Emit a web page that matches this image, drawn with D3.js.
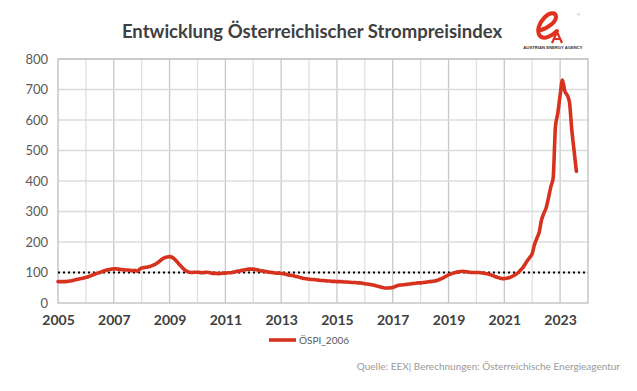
<!DOCTYPE html>
<html><head><meta charset="utf-8">
<script src="https://cdn.jsdelivr.net/npm/d3@7"></script>
<style>body{margin:0;background:#fff}svg{display:block}</style>
</head><body>
<script>
const years = [2005,2006,2007,2008,2009,2010,2011,2012,2013,2014,2015,2016,2017,2018,2019,2020,2021,2022,2023];
const ospi2005 = [70,70,70,70,71,72,73,75,77,79,80,82];
const ospi2006 = [84,86,89,92,95,98,100,103,106,108,110,111];
const ospi2007 = [112,112,111,110,109,108,108,107,106,107,104,110];
const ospi2008 = [115,116,117,119,121,124,128,133,139,145,149,151];
const ospi2009 = [152,150,145,137,128,120,112,106,102,100,100,101];
const ospi2010 = [101,100,99,100,101,100,98,97,97,96,97,98];
const ospi2011 = [98,99,99,100,102,104,105,107,108,110,111,111];
const ospi2012 = [111,110,108,106,105,104,102,101,100,99,98,98];
const ospi2013 = [97,96,94,92,91,90,88,86,84,82,80,79];
const ospi2014 = [78,77,77,76,75,74,74,73,72,72,71,71];
const ospi2015 = [70,70,70,69,69,68,68,67,67,66,66,65];
const ospi2016 = [63,62,61,60,58,56,54,52,50,49,49,50];
const ospi2017 = [51,54,57,59,59,60,61,62,63,64,65,66];
const ospi2018 = [66,67,68,69,70,71,72,74,77,80,84,88];
const ospi2019 = [92,95,98,100,102,103,104,103,102,101,100,100];
const ospi2020 = [100,100,99,98,97,95,93,90,87,84,82,80];
const ospi2021 = [80,81,83,86,90,94,100,108,116,128,140,150];
const ospi2022 = [162,192,212,232,272,294,312,345,381,409,578,622];
const ospi2023 = [680,731,695,682,660,570,500,432];
const seriesByYear = [ospi2005,ospi2006,ospi2007,ospi2008,ospi2009,ospi2010,ospi2011,ospi2012,ospi2013,ospi2014,ospi2015,ospi2016,ospi2017,ospi2018,ospi2019,ospi2020,ospi2021,ospi2022,ospi2023];
const yTicks = [0,100,200,300,400,500,600,700,800];
const xLabelYears = [2005,2007,2009,2011,2013,2015,2017,2019,2021,2023];
const baseline = 100;
const title = "Entwicklung Österreichischer Strompreisindex";
const seriesName = "ÖSPI_2006";
const source = "Quelle: EEX| Berechnungen: Österreichische Energieagentur";

const data = [];
seriesByYear.forEach((arr, i) => arr.forEach((v, m) => data.push({t: years[i] + m/12, v})));

const W = 637, H = 391;
const svg = d3.select("body").append("svg").attr("width", W).attr("height", H);
const pL = 58, pR = 588, pT = 59, pB = 303;
const x = d3.scaleLinear().domain([2005, 2024]).range([pL, pR]);
const y = d3.scaleLinear().domain([0, 800]).range([pB, pT]);

// grid
const g = svg.append("g");
d3.range(2006, 2024).forEach(yr => {
  g.append("line").attr("x1", x(yr)).attr("x2", x(yr)).attr("y1", pT).attr("y2", pB)
   .attr("stroke", (yr % 2 === 1) ? "#c8c8c8" : "#e0e0e0").attr("stroke-width", 1.3);
});
yTicks.slice(1).forEach(t => {
  g.append("line").attr("x1", pL).attr("x2", pR).attr("y1", y(t)).attr("y2", y(t))
   .attr("stroke", "#dcdcdc").attr("stroke-width", 1.3);
});
svg.append("rect").attr("x", pL).attr("y", pT).attr("width", pR-pL).attr("height", pB-pT)
  .attr("fill", "none").attr("stroke", "#bdbdbd").attr("stroke-width", 1.3);

// axes
const yAxis = d3.axisLeft(y).tickValues(yTicks).tickSize(0).tickPadding(10);
svg.append("g").attr("transform", `translate(${pL},0)`).call(yAxis)
  .call(s => s.select(".domain").remove())
  .selectAll("text").attr("font-family", "Lato, 'Open Sans', sans-serif").attr("font-size", 13).attr("fill", "#595959");
const xAxis = d3.axisBottom(x).tickValues(xLabelYears).tickFormat(d3.format("d")).tickSize(0).tickPadding(12);
svg.append("g").attr("transform", `translate(0,${pB})`).call(xAxis)
  .call(s => s.select(".domain").remove())
  .selectAll("text").attr("font-family", "Lato, 'Open Sans', sans-serif").attr("font-size", 14).attr("font-weight", "bold").attr("fill", "#404040");

// baseline dotted
svg.append("line").attr("x1", pL).attr("x2", pR).attr("y1", y(baseline)).attr("y2", y(baseline))
  .attr("stroke", "#000").attr("stroke-width", 2.2).attr("stroke-dasharray", "2 3");

// line
const line = d3.line().x(d => x(d.t)).y(d => y(d.v)).curve(d3.curveMonotoneX);
svg.append("path").datum(data).attr("d", line).attr("fill", "none")
  .attr("stroke", "#d6321d").attr("stroke-width", 3.6).attr("stroke-linejoin", "round").attr("stroke-linecap", "round");

// title
svg.append("text").attr("x", 312).attr("y", 38).attr("text-anchor", "middle")
  .attr("font-family", "Lato, 'Open Sans', sans-serif").attr("font-weight", "bold").attr("font-size", 18.5)
  .attr("fill", "#404040").text(title);

// legend
svg.append("line").attr("x1", 269).attr("x2", 296).attr("y1", 340).attr("y2", 340)
  .attr("stroke", "#d6321d").attr("stroke-width", 3.6);
svg.append("text").attr("x", 299).attr("y", 344).attr("font-family", "Lato, 'Open Sans', sans-serif")
  .attr("font-size", 10).attr("fill", "#595959").text(seriesName);

// source
svg.append("text").attr("x", 620).attr("y", 370).attr("text-anchor", "end")
  .attr("font-family", "Lato, 'Open Sans', sans-serif").attr("font-size", 10).attr("fill", "#9a9a9a").text(source);

// logo (drawn as shapes + small text)
const logo = svg.append("g");
logo.append("path")
  .attr("d", "M541,30 C548,28 556,22 556,17 C556,12 550,12 545,17 C539,23 536,31 540,36 C544,40 552,36 557,31")
  .attr("fill", "none").attr("stroke", "#e0301e").attr("stroke-width", 4).attr("stroke-linecap", "round");
logo.append("path").attr("d", "M552,43 L557,32 L562,43 M554,39 L560,39")
  .attr("fill", "none").attr("stroke", "#e0301e").attr("stroke-width", 2.2);
logo.append("text").attr("x", 577).attr("y", 16).attr("font-family", "'Liberation Sans', sans-serif")
  .attr("font-size", 4).attr("fill", "#888").text("®");
logo.append("text").attr("x", 553).attr("y", 49).attr("text-anchor", "middle").attr("font-family", "'Liberation Sans', sans-serif")
  .attr("font-weight", "bold").attr("font-size", 4.2).attr("fill", "#333").text("AUSTRIAN ENERGY AGENCY");
</script>
</body></html>
